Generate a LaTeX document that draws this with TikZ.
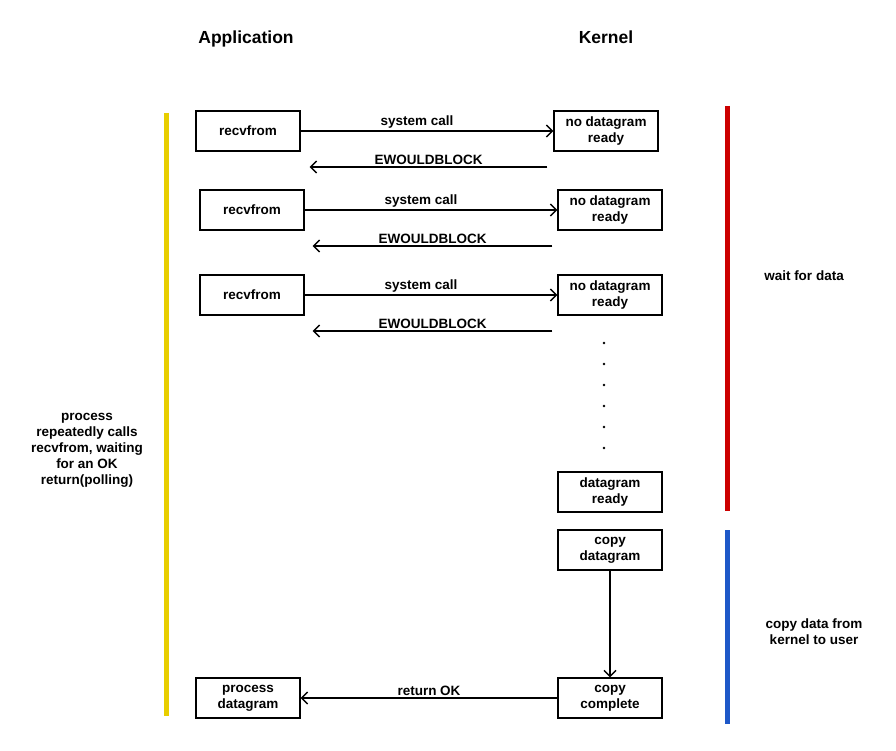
\documentclass[tikz,border=0pt]{standalone}
\usepackage{fontspec}
\setmainfont{Liberation Sans}
\usetikzlibrary{arrows.meta}
\newcommand{\boxwidth}{104pt}
\newcommand{\boxheight}{40pt}
\newcommand{\textsz}{\fontsize{13.5}{16}\selectfont\bfseries}
\definecolor{pollyellow}{RGB}{232,206,0}
\definecolor{waitred}{RGB}{204,0,0}
\definecolor{copyblue}{RGB}{30,88,200}
\tikzstyle{callbox}=[draw, line width=1.4pt, minimum width=\boxwidth, minimum height=\boxheight,
                     inner sep=0, align=center, font=\textsz]
\tikzstyle{msg}=[line width=1.4pt, -{Straight Barb[length=6pt, width=12pt, line width=1.4pt]}]
\tikzstyle{msglabel}=[midway, above, inner sep=1.5pt, font=\textsz]
\tikzstyle{note}=[align=center, inner sep=0, font=\textsz]
\tikzstyle{header}=[inner sep=0, text height=13pt, text depth=4pt, font=\fontsize{17.5}{20}\selectfont\bfseries]
\tikzstyle{phase}=[line width=5pt]

\begin{document}
\begin{tikzpicture}[x=1pt, y=-1pt]
    \useasboundingbox (0,0) rectangle (896,751);
    \node[header] (app) at (246,39) {Application};
    \node[header] (kern) at (606,39) {Kernel};
    % phases
    \draw[phase, pollyellow] (166,113) -- (166,716);
    \draw[phase, waitred] (727,106) -- (727,511);
    \draw[phase, copyblue] (727,530) -- (727,724);
    \node[note] (poll) at (87,450) {process\\repeatedly calls\\recvfrom, waiting\\for an OK\\return(polling)};
    \node[note] (wait) at (804,276) {wait for data};
    \node[note] (copy) at (814,632) {copy data from\\kernel to user};
    % three unsuccessful calls
    \node[callbox] (rf1) at (248,131) {recvfrom};
    \node[callbox] (nd1) at (606,131) {no datagram\\ready};
    \node[callbox] (rf2) at (252,210) {recvfrom};
    \node[callbox] (nd2) at (610,210) {no datagram\\ready};
    \node[callbox] (rf3) at (252,295) {recvfrom};
    \node[callbox] (nd3) at (610,295) {no datagram\\ready};
    \draw[msg] (rf1.east) -- node[msglabel, pos=0.46] {system call} (nd1.west);
    \draw[msg] ([shift={(-6,36)}]nd1.west) -- node[msglabel] {EWOULDBLOCK} ([shift={(9,36)}]rf1.east);
    \draw[msg] (rf2.east) -- node[msglabel, pos=0.46] {system call} (nd2.west);
    \draw[msg] ([shift={(-5,36)}]nd2.west) -- node[msglabel] {EWOULDBLOCK} ([shift={(8,36)}]rf2.east);
    \draw[msg] (rf3.east) -- node[msglabel, pos=0.46] {system call} (nd3.west);
    \draw[msg] ([shift={(-5,36)}]nd3.west) -- node[msglabel] {EWOULDBLOCK} ([shift={(8,36)}]rf3.east);
    \foreach \i in {0,...,5}
        \fill (604,343+21*\i) circle (1.4pt);
    % data arrives
    \node[callbox] (dr) at (610,492) {datagram\\ready};
    \node[callbox] (cd) at (610,550) {copy\\datagram};
    \node[callbox] (cc) at (610,698) {copy\\complete};
    \node[callbox] (pd) at (248,698) {process\\datagram};
    \draw[msg] (cd) -- (cc);
    \draw[msg] (cc.west) -- node[msglabel] {return OK} (pd.east);
\end{tikzpicture}
\end{document}
